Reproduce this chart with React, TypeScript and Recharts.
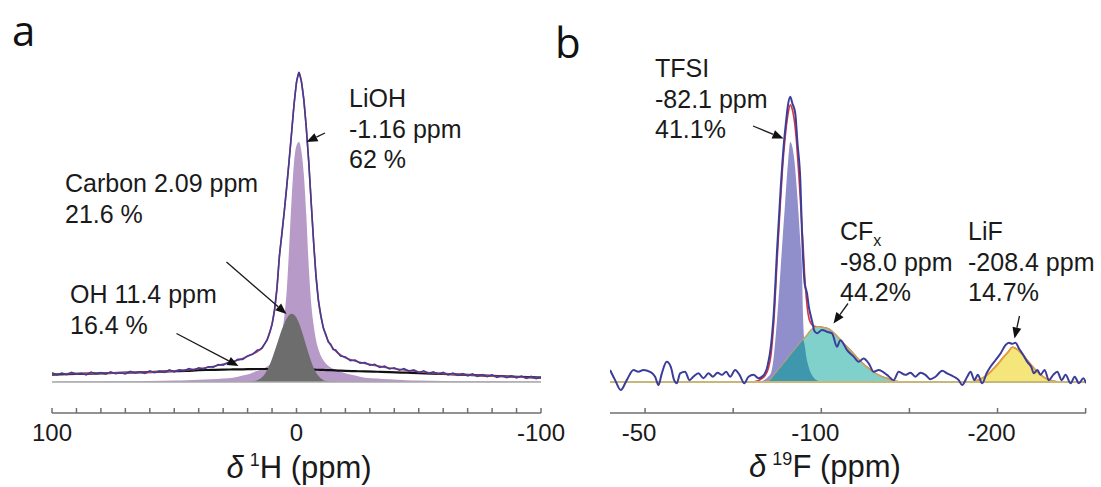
import React from "react";
import { ComposedChart, Area, Line, XAxis, YAxis, ReferenceLine } from "recharts";

const FONT = "'Liberation Sans', Arial, sans-serif";

// ---------- panel a : 1H spectrum ----------
const hPpm = [
  100, 90, 80, 70, 60, 50, 45, 40, 35, 30, 26, 22, 19, 16, 14, 12, 10, 9, 8, 7,
  6, 5, 4, 3, 2, 1, 0, -1, -2, -3, -4, -5, -6, -7, -8, -9, -10, -11, -12, -14,
  -17, -20, -24, -28, -33, -38, -45, -50, -60, -70, -80, -90, -100,
];
const hFit = [
  2.6, 2.7, 2.8, 3.0, 3.2, 3.6, 3.9, 4.3, 4.9, 5.8, 6.6, 7.6, 8.7, 9.8, 11.2, 13.8, 18.7, 23, 30, 40.5,
  47.5, 55, 63, 71.5, 80.5, 89.5, 96.5, 99.8, 97, 91, 82, 71, 58, 45, 34, 26, 21, 17.5, 15, 11.8,
  9.3, 7.8, 6.8, 6.0, 5.2, 4.5, 3.8, 3.3, 2.7, 2.3, 1.9, 1.6, 1.3,
];
const hLiOH = [
  0.12, 0.15, 0.2, 0.26, 0.35, 0.45, 0.55, 0.7, 0.85, 1.15, 1.4, 2.1, 2.7, 3.6, 4.1, 5.0, 6.4, 7.5, 9.2, 11.6,
  15.5, 21, 29.5, 43.5, 59, 71, 76.3, 77.4, 74.5, 67, 54, 37.5, 25.5, 18.5, 13.5, 10.5, 8.4, 7.0, 6.0, 4.7,
  3.7, 2.8, 2.1, 1.4, 1.1, 0.85, 0.6, 0.48, 0.36, 0.27, 0.21, 0.16, 0.12,
];
const hCarbon = [
  0, 0, 0, 0, 0, 0, 0, 0, 0, 0, 0, 0, 0.1, 0.6, 1.6, 3.8, 7.5, 9.8, 12.2, 14.6,
  16.9, 18.9, 20.5, 21.6, 22, 21.7, 20.7, 19, 16.8, 14.3, 11.6, 9.0, 6.6, 4.6, 3.0, 1.9, 1.1, 0.6, 0.3, 0.05,
  0, 0, 0, 0, 0, 0, 0, 0, 0, 0, 0, 0, 0,
];
const hOH = [
  2.4, 2.6, 2.8, 3.0, 3.2, 3.5, 3.6, 3.8, 3.9, 4.0, 4.05, 4.1, 4.15, 4.2, 4.2, 4.2, 4.2, 4.2, 4.2, 4.2,
  4.15, 4.15, 4.15, 4.15, 4.1, 4.1, 4.1, 4.1, 4.05, 4.05, 4.05, 4.0, 4.0, 4.0, 3.95, 3.95, 3.9, 3.9, 3.85, 3.8,
  3.7, 3.6, 3.5, 3.4, 3.3, 3.2, 3.0, 2.85, 2.6, 2.3, 2.0, 1.7, 1.4,
];
const hMeasPpm = [
  100, 98, 96, 94, 92, 90, 88, 86, 84, 82, 80, 78, 76, 74, 72, 70, 68, 66, 64, 62,
  60, 58, 56, 54, 52, 50, 48, 46, 44, 42, 40, 38, 36, 34, 32, 30, 28, 26, 24, 22,
  20, 18, 16,
  15, 14, 13, 12, 11, 10, 9, 8, 7, 6, 5, 4, 3, 2, 1, 0, -1, -2, -3, -4,
  -5, -6, -7, -8, -9, -10, -11, -12, -13, -14, -15,
  -16, -18, -20, -22, -24, -26, -28, -30, -32, -34, -36, -38, -40, -42, -44, -46, -48, -50, -52, -54,
  -56, -58, -60, -62, -64, -66, -68, -70, -72, -74, -76, -78, -80, -82, -84, -86, -88, -90, -92, -94,
  -96, -98, -100,
];
const hMeas = [
  3.0, 2.3, 2.9, 2.4, 3.1, 2.5, 2.8, 2.3, 3.2, 2.6, 3.0, 2.5, 3.3, 2.7, 3.0, 2.6, 3.4, 2.9, 3.3, 2.8,
  3.6, 3.0, 3.5, 3.1, 3.9, 3.3, 3.9, 3.6, 4.3, 3.9, 4.6, 4.2, 4.9, 4.8, 5.6, 5.4, 6.3, 6.3, 7.3, 7.3,
  8.4, 8.9, 10.3,
  10.4, 11.0, 12.4, 13.5, 15.9, 18.5, 23.3, 30.2, 40.5, 47.8, 55, 63, 71.6, 80.5, 89.6, 96.8, 100, 97, 91, 82,
  71.2, 58, 45.3, 34, 26.2, 21.3, 17.3, 15.4, 12.9, 12.2, 10.5,
  10.3, 8.4, 8.1, 6.9, 7.1, 6.1, 6.3, 5.4, 5.7, 4.7, 5.1, 4.2, 4.6, 3.8, 4.3, 3.5, 3.9, 3.0, 3.6, 2.8,
  3.3, 2.5, 3.1, 2.3, 2.9, 2.1, 2.7, 2.0, 2.6, 1.8, 2.4, 1.7, 2.3, 1.5, 2.1, 1.4, 2.0, 1.3, 1.9, 1.2,
  1.8, 1.1, 1.6,
];
const hTicks = [100, 90, 80, 70, 60, 50, 40, 30, 20, 10, 0, -10, -20, -30, -40, -50, -60, -70, -80, -90, -100];
const hTickLabels = ["100", "", "", "", "", "", "", "", "", "", "0", "", "", "", "", "", "", "", "", "", "-100"];

// ---------- panel b : 19F spectrum ----------
const fPpm = [
  20, 0, -40, -60, -64, -66, -68, -70, -71.5, -73, -75, -76.5, -78, -79.5, -81, -82.4, -83.5, -85, -86, -87,
  -88, -89, -89.6, -90.5, -91.5, -92.5, -94, -96, -98, -101, -103, -105, -108, -111, -114, -117, -120, -123, -126, -130,
  -134, -137, -141, -145, -150, -185, -188, -191, -194, -197, -200, -203, -206, -208.4, -211, -214, -217, -220, -223, -226,
  -229, -232, -235, -250.2,
];
const fFit = [
  0, 0, 0, 0, 0.4, 1.0, 2.0, 4.5, 9, 19, 40, 55, 69, 79, 86, 89.4, 88, 83, 77, 69,
  60, 50, 45, 35, 27, 22, 19, 18, 17.8, 17.6, 17.3, 16.8, 15.3, 13.5, 11.6, 9.9, 8.0, 6.3, 4.7, 3.0,
  1.8, 1.2, 0.4, 0, 0, 0, 0.4, 1.1, 2.2, 3.8, 5.6, 7.7, 9.6, 11.2, 10.6, 9.0, 6.9, 4.8, 3.0, 1.6,
  0.7, 0.2, 0, 0,
];
const fTfsi = [
  0, 0, 0, 0, 0, 0.2, 0.8, 1.8, 3, 8, 21, 33, 46, 58, 70, 77.4, 76, 70, 63, 55,
  46, 37, 22, 12, 8, 5.5, 3, 1.2, 0.4, 0, 0, 0, 0, 0, 0, 0, 0, 0, 0, 0,
  0, 0, 0, 0, 0, 0, 0, 0, 0, 0, 0, 0, 0, 0, 0, 0, 0, 0, 0, 0,
  0, 0, 0, 0,
];
const fCfx = [
  null, null, null, null, null, null, 0, 0.3, 0.9, 2.0, 3.4, 4.4, 5.5, 6.5, 7.6, 8.6, 9.4, 10.4, 11.1, 11.8,
  12.5, 13.2, 13.6, 14.2, 14.9, 15.6, 16.7, 17.5, 17.8, 17.6, 17.3, 16.8, 15.3, 13.5, 11.6, 9.9, 8.0, 6.3, 4.7, 3.0,
  1.8, 1.2, 0.4, 0, null, null, null, null, null, null, null, null, null, null, null, null, null, null, null, null,
  null, null, null, null,
];
const fLif = [
  null, null, null, null, null, null, null, null, null, null, null, null, null, null, null, null, null, null, null, null,
  null, null, null, null, null, null, null, null, null, null, null, null, null, null, null, null, null, null, null, null,
  null, null, null, null, null, 0, 0.4, 1.1, 2.2, 3.8, 5.6, 7.7, 9.6, 11.2, 10.6, 9.0, 6.9, 4.8, 3.0, 1.6,
  0.7, 0.2, 0, null,
];
const fMeasPpm = [
  19.9, 17, 13.8, 10.4, 6.6, 3.8, 1.0, -2.8, -5.7, -7.6, -9.5, -12.3, -14.6, -16.5, -18, -19.9, -22.7, -25.2, -27.4, -30.3,
  -33.1, -36, -38.5, -41.1, -43.6, -46, -48.3, -51.1, -53.6, -56.3, -58.7, -61.5, -64.4, -67, -69.5, -71.5, -73, -75, -77, -78.6,
  -80, -81, -82.4, -83.5, -85.2, -86.5, -88.1, -89, -89.9, -90.5, -91.9, -93, -93.75, -95, -96, -97.6, -100.4, -103.2, -106.1, -108.9,
  -110.8, -114.6, -118.4, -121.2, -124, -126.9, -129.7, -132.6, -137.3, -141.1, -143.9, -147.7, -150.6, -153.4, -156.3, -159.1, -161.9, -164.8, -168.6, -171.4,
  -175.2, -178, -179.9, -182.8, -184.7, -186.9, -188.8, -191.3, -193.8, -196, -198.9, -201.7, -204.5, -206.4, -208.4, -210.2, -212.1, -214.6, -216.9, -219.1,
  -220.6, -222.6, -224.4, -226.7, -229.1, -231.6, -233.9, -236.4, -238.6, -241.5, -243.8, -246.2, -248.7, -250.2,
];
const fMeas = [
  3.9, 0.6, -2.6, 0.6, 3.9, 3.3, 3.9, 3.3, 1.7, -1.0, 2.8, 6.5, 4.9, 0.6, -0.4, 2.8, 3.3, 0.6, 1.7, 2.8,
  1.2, 2.8, 1.7, 3.0, 2.3, 3.3, 1.7, 3.9, 2.3, -0.4, 1.7, 2.3, 1.2, 2.0, 5.2, 12, 22, 43.6, 63, 75.9,
  84, 89, 92, 90, 86.7, 77, 65, 49, 37, 32, 28.6, 24, 22, 19, 16.5, 15.7, 16.8, 16.2, 15.7, 11.4,
  13.5, 10.3, 8.2, 6.5, 7.6, 6.0, 3.3, 3.9, 2.3, 0.6, 3.3, 2.3, 3.0, 1.7, 3.0, 2.3, 0.9, 1.7, 3.6, 2.8,
  1.7, 0.6, -1.0, 1.7, 3.3, 0.6, 2.3, -0.4, 2.8, 4.9, 7.1, 9.2, 11.9, 12.7, 12.3, 12.7, 10.9, 8.7, 6.5, 4.9,
  2.8, 3.9, 2.3, 3.9, 0.6, 2.3, 3.3, 0.6, 2.3, -0.4, 1.7, -0.4, 1.2, -0.4,
];
const fTicks = [0, -50, -100, -150, -200, -250];
const fTickLabels = ["-50", "", "-100", "", "-200", ""];

// ---------- annotations ----------
const notes = [
  { x: 349, y: 107, lines: ["LiOH", "-1.16 ppm", "62 %"] },
  { x: 65, y: 192, lines: ["Carbon 2.09 ppm", "21.6 %"] },
  { x: 70, y: 303, lines: ["OH 11.4 ppm", "16.4 %"] },
  { x: 655, y: 77, lines: ["TFSI", "-82.1 ppm", "41.1%"] },
  { x: 840, y: 240, lines: ["CF", "-98.0 ppm", "44.2%"], sub: "x" },
  { x: 968, y: 240, lines: ["LiF", "-208.4 ppm", "14.7%"] },
];
const arrows = [
  { x1: 325, y1: 133, x2: 306.5, y2: 142 },
  { x1: 226.5, y1: 262, x2: 286.5, y2: 314 },
  { x1: 176.5, y1: 333.5, x2: 238.5, y2: 366 },
  { x1: 753, y1: 126, x2: 783.5, y2: 138.5 },
  { x1: 848, y1: 303.5, x2: 833.5, y2: 323.5 },
  { x1: 1019.5, y1: 316, x2: 1014.5, y2: 338.5 },
];

const hRows = hPpm.map((ppm, i) => ({ ppm, fit: hFit[i], lioh: hLiOH[i], carbon: hCarbon[i], oh: hOH[i] }));
const hMeasRows = hMeasPpm.map((ppm, i) => ({ ppm, meas: hMeas[i] }));
const fRows = fPpm.map((ppm, i) => ({
  ppm,
  fit: fFit[i],
  tfsi: fTfsi[i],
  cfx: fCfx[i],
  lif: fLif[i],
  // region where the TFSI and CFx components overlap
  overlap: fCfx[i] == null ? null : Math.min(fTfsi[i], fCfx[i] as number),
}));
const fMeasRows = fMeasPpm.map((ppm, i) => ({ ppm, meas: fMeas[i] }));

const AxisTick = (props: any) => {
  const { x, y, payload, tickValues, tickLabels, dx = 0 } = props;
  const label = tickLabels[tickValues.indexOf(payload.value)];
  return (
    <g>
      <line x1={x} x2={x} y1={y} y2={y - 5} stroke="#6f6f6f" strokeWidth={1.5} />
      {label ? (
        <text x={x + dx} y={y + 28} textAnchor="middle" fontSize={24} fontFamily={FONT} fill="#1a1a1a">
          {label}
        </text>
      ) : null}
    </g>
  );
};

const Arrow = ({ x1, y1, x2, y2 }: { x1: number; y1: number; x2: number; y2: number }) => {
  const a = Math.atan2(y2 - y1, x2 - x1);
  const len = 11;
  const half = 4.5;
  const bx = x2 - len * Math.cos(a);
  const by = y2 - len * Math.sin(a);
  const px = -Math.sin(a) * half;
  const py = Math.cos(a) * half;
  return (
    <g>
      <line x1={x1} y1={y1} x2={bx} y2={by} stroke="#1a1a1a" strokeWidth={1.3} />
      <polygon points={`${x2},${y2} ${bx + px},${by + py} ${bx - px},${by - py}`} fill="#111" />
    </g>
  );
};

const MARGIN_TOP = 56.5;
const AXIS_H = 74;

export default function App() {
  return (
    <div style={{ position: "absolute", left: 0, top: 0, width: 1101, height: 487, background: "#fff", overflow: "hidden" }}>
      {/* panel a (wider than its plot so the "-100" tick label is not clipped) */}
      <div style={{ position: "absolute", left: 0, top: 0 }}>
        <ComposedChart width={600} height={487} data={hRows} margin={{ top: MARGIN_TOP, right: 59, bottom: 0, left: 52 }}>
          <XAxis
            type="number"
            dataKey="ppm"
            domain={[-100, 100]}
            reversed
            allowDataOverflow
            ticks={hTicks}
            interval={0}
            height={AXIS_H}
            tickSize={0}
            tickMargin={0}
            tickLine={false}
            axisLine={{ stroke: "#6f6f6f", strokeWidth: 1.5 }}
            tick={<AxisTick tickValues={hTicks} tickLabels={hTickLabels} />}
          />
          <YAxis hide type="number" domain={[-10, 105]} allowDataOverflow />
          <Area type="monotone" dataKey="lioh" stroke="none" fill="#b89ac9" fillOpacity={1} baseValue={0} dot={false} activeDot={false} isAnimationActive={false} />
          {/* drawn as an unfilled Area so it stays under the carbon component */}
          <Area type="monotone" dataKey="oh" stroke="#111" strokeWidth={2.2} fill="none" baseValue={0} dot={false} activeDot={false} isAnimationActive={false} />
          <Area type="monotone" dataKey="carbon" stroke="none" fill="#6d6d6d" fillOpacity={1} baseValue={0} dot={false} activeDot={false} isAnimationActive={false} />
          <ReferenceLine y={0} stroke="#a8a8a8" strokeWidth={1.5} />
          <Line type="monotone" dataKey="fit" stroke="#d8384a" strokeWidth={1.6} dot={false} activeDot={false} isAnimationActive={false} />
          <Line data={hMeasRows} type="linear" dataKey="meas" stroke="#3b3f97" strokeWidth={1.6} dot={false} activeDot={false} isAnimationActive={false} />
        </ComposedChart>
      </div>

      {/* panel b */}
      <div style={{ position: "absolute", left: 560, top: 0 }}>
        <ComposedChart width={541} height={487} data={fRows} margin={{ top: MARGIN_TOP, right: 15, bottom: 0, left: 50 }}>
          <XAxis
            type="number"
            dataKey="ppm"
            domain={[-250.2, 19.9]}
            reversed
            allowDataOverflow
            ticks={fTicks}
            interval={0}
            height={AXIS_H}
            tickSize={0}
            tickMargin={0}
            tickLine={false}
            axisLine={{ stroke: "#6f6f6f", strokeWidth: 1.5 }}
            tick={<AxisTick tickValues={fTicks} tickLabels={fTickLabels} dx={-6} />}
          />
          <YAxis hide type="number" domain={[-10, 105]} allowDataOverflow />
          {/* total fit as an unfilled Area so the component fills sit on top of it */}
          <Area type="monotone" dataKey="fit" stroke="#d8343e" strokeWidth={1.6} fill="none" baseValue={0} dot={false} activeDot={false} isAnimationActive={false} />
          <Area type="monotone" dataKey="tfsi" stroke="none" fill="#908ecb" fillOpacity={1} baseValue={0} dot={false} activeDot={false} isAnimationActive={false} />
          <Area type="monotone" dataKey="cfx" stroke="#c9a461" strokeWidth={1.6} fill="#80d0cb" fillOpacity={1} baseValue={0} dot={false} activeDot={false} isAnimationActive={false} />
          <Area type="monotone" dataKey="overlap" stroke="none" fill="#3e97ad" fillOpacity={1} baseValue={0} dot={false} activeDot={false} isAnimationActive={false} />
          <Area type="monotone" dataKey="lif" stroke="#e0a040" strokeWidth={1.8} fill="#f5e67b" fillOpacity={1} baseValue={0} dot={false} activeDot={false} isAnimationActive={false} />
          <ReferenceLine y={0} stroke="#c8b77a" strokeWidth={2} />
          <Line data={fMeasRows} type="monotone" dataKey="meas" stroke="#3b3e99" strokeWidth={2} dot={false} activeDot={false} isAnimationActive={false} />
        </ComposedChart>
      </div>

      {/* titles, panel letters and peak annotations */}
      <svg width={1101} height={487} style={{ position: "absolute", left: 0, top: 0, pointerEvents: "none" }}>
        <text x={12} y={46} fontSize={42} fontFamily="'Open Sans', sans-serif" fill="#111">a</text>
        <text x={555} y={58} fontSize={42} fontFamily="'Open Sans', sans-serif" fill="#111">b</text>

        <text x={299} y={478} textAnchor="middle" fontSize={31} fontFamily={FONT} fill="#1a1a1a">
          <tspan fontStyle="italic">δ</tspan>
          <tspan dx={6} dy={-12} fontSize={18}>1</tspan>
          <tspan dy={12}>H (ppm)</tspan>
        </text>
        <text x={825} y={477} textAnchor="middle" fontSize={31} fontFamily={FONT} fill="#1a1a1a">
          <tspan fontStyle="italic">δ</tspan>
          <tspan dx={6} dy={-12} fontSize={18}>19</tspan>
          <tspan dy={12}>F (ppm)</tspan>
        </text>

        {notes.map((n, k) => (
          <text key={k} fontSize={25} fontFamily={FONT} fill="#1a1a1a">
            {n.lines.map((line, j) => (
              <tspan key={j} x={n.x} y={n.y + j * 30.5}>
                {line}
                {j === 0 && n.sub ? (
                  <tspan fontSize={16} dy={6}>{n.sub}</tspan>
                ) : null}
              </tspan>
            ))}
          </text>
        ))}

        {arrows.map((a, k) => (
          <Arrow key={k} {...a} />
        ))}
      </svg>
    </div>
  );
}
